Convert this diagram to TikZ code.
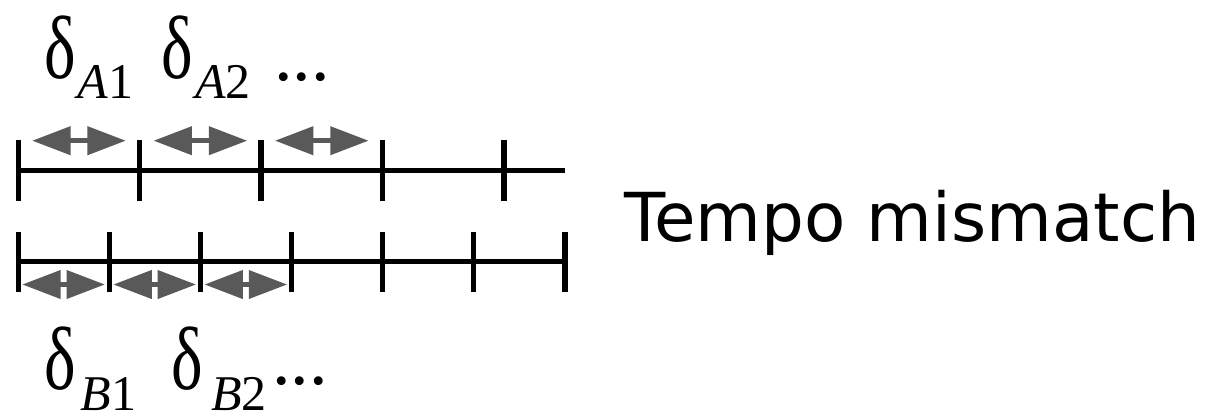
\documentclass[tikz,border=0pt]{standalone}
\usepackage{fontspec}
\setmainfont{Liberation Serif}
\newfontfamily\dejavu{DejaVu Sans}
\usetikzlibrary{arrows.meta}
\definecolor{arrowgray}{RGB}{89,89,89}
\tikzset{
  barline/.style={line width=5.3pt, black},
  tickline/.style={line width=5.3pt, black},
  tipA/.style={arrowgray, line width=5pt, {Triangle[length=38.4pt,width=27.7pt]}-{Triangle[length=38.4pt,width=27.7pt]}},
  deltalbl/.style={anchor=base west, inner sep=0pt, font=\fontsize{69}{69}\selectfont},
  dotslbl/.style={anchor=base west, inner sep=0pt, font=\fontsize{74}{74}\selectfont},
  titlelbl/.style={anchor=base west, inner sep=0pt, font=\dejavu\fontsize{67.5}{67.5}\selectfont}
}
\newcommand{\dlt}{\scalebox{0.97}[1.3]{δ}}
\newcommand{\subsc}[3]{\kern#1\raisebox{-#2}{\smash{\fontsize{50}{50}\selectfont #3}}}
\begin{document}
\begin{tikzpicture}[x=1pt,y=-1pt]
\useasboundingbox (0,0) rectangle (1213,416);
% top timeline (A)
\foreach \k in {0,...,4} {
  \coordinate (ta\k) at ({18.3+121.4*\k},170.5);
  \draw[tickline] ({18.3+121.4*\k},140) -- ({18.3+121.4*\k},200.7);
}
\coordinate (taend) at (564.5,170.5);
\draw[barline] (ta0) -- (taend);
% bottom timeline (B)
\foreach \k in {0,...,6} {
  \coordinate (tb\k) at ({18.3+91.1*\k},261.7);
  \draw[tickline] ({18.3+91.1*\k},231.7) -- ({18.3+91.1*\k},292.3);
}
\draw[barline] (tb0) -- (tb6);
% top double arrows
\foreach \k in {0,1,2} {
  \coordinate (aal\k) at ({79.0+121.4*\k-46.85},140.7);
  \coordinate (aar\k) at ({79.0+121.4*\k+46.85},140.7);
  \draw[tipA] (aal\k) -- (aar\k);
}
% bottom double arrows
\foreach \k in {0,1,2} {
  \coordinate (bal\k) at ({63.6+91.1*\k-41.35},284.5);
  \coordinate (bar\k) at ({63.6+91.1*\k+41.35},284.5);
  \draw[tipA] (bal\k) -- (bar\k);
}
% labels
\node[deltalbl] (dA1) at (44,78) {\dlt\subsc{2pt}{20pt}{\textit{A}1}};
\node[deltalbl] (dA2) at (161.5,78) {\dlt\subsc{2pt}{20pt}{\textit{A}2}};
\node[dotslbl] (dAd) at (274,80) {...};
\node[deltalbl] (dB1) at (44,389) {\dlt\subsc{5pt}{21pt}{\textit{B}1}};
\node[deltalbl] (dB2) at (171.5,389) {\dlt\subsc{8pt}{21pt}{\textit{B}2}};
\node[dotslbl] (dBd) at (272,384.5) {...};
\node[titlelbl] (tempo) at (624,241.5) {Tempo mismatch};
\end{tikzpicture}
\end{document}
